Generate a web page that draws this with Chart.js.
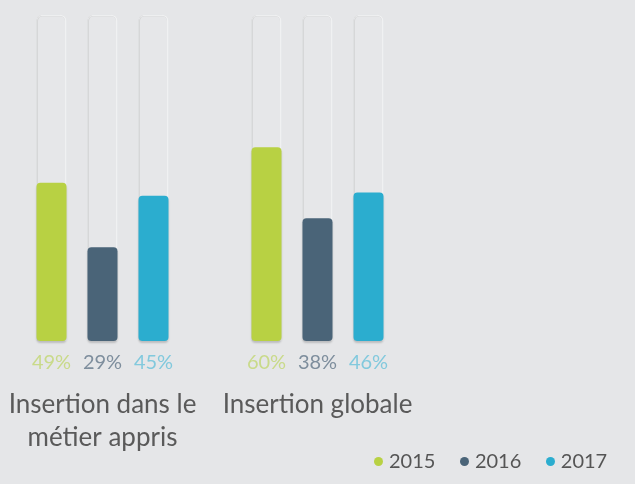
<!DOCTYPE html>
<html>
<head>
<meta charset="utf-8">
<script src="https://cdn.jsdelivr.net/npm/chart.js@4/dist/chart.umd.min.js"></script>
<style>
  html, body { margin:0; padding:0; background:#e5e6e8; }
  #wrap { position:relative; width:635px; height:484px; overflow:hidden; background:#e5e6e8; }
  #c { position:absolute; left:0; top:0; }
  #legend { position:absolute; top:448px; left:374px; font-family:Lato, sans-serif; font-size:20px; color:#555; white-space:nowrap; }
  #legend span.item { display:inline-block; margin-right:24.5px; }
  #legend span.dot { display:inline-block; width:9px; height:9px; border-radius:50%; margin-right:6px; vertical-align:2px; }
</style>
</head>
<body>
<div id="wrap">
  <canvas id="c" width="635" height="484"></canvas>
  <div id="legend"></div>
</div>
<script>
const categories = [['Insertion dans le', 'métier appris'], 'Insertion globale'];
const years = ['2015', '2016', '2017'];
const values2015 = [49, 60];
const values2016 = [29, 38];
const values2017 = [45, 46];
const trackMax = 101;

const barColors = ['#b8d143', '#4a6478', '#2badcf'];
const labelColors = ['#c9da8a', '#7e8e9d', '#82c9dd'];
const seriesValues = [values2015, values2016, values2017];

const valueSets = years.map((y, i) => ({
  label: y,
  data: seriesValues[i],
  backgroundColor: barColors[i],
  borderRadius: 4,
  borderSkipped: false,
  stack: 's' + i,
  clip: false,
  isValue: true
}));
const trackSets = years.map((y, i) => ({
  label: 'track' + y,
  data: categories.map(() => trackMax),
  backgroundColor: '#e6e7e9',
  borderColor: '#f0f1f2',
  borderWidth: 1.5,
  borderRadius: {topLeft: 6, topRight: 6, bottomLeft: 0, bottomRight: 0},
  borderSkipped: 'bottom',
  stack: 's' + i,
  clip: false,
  isValue: false
}));

const valueLabels = {
  id: 'valueLabels',
  beforeDatasetDraw(chart, args) {
    const ds = chart.data.datasets[args.index];
    const ctx = chart.ctx;
    ctx.save();
    if (ds.isValue) {
      ctx.shadowColor = 'rgba(0,0,0,0.18)';
      ctx.shadowOffsetY = 2;
      ctx.shadowBlur = 2;
    } else {
      ctx.shadowColor = 'rgba(0,0,0,0.12)';
      ctx.shadowOffsetX = -1;
      ctx.shadowBlur = 1;
    }
  },
  afterDatasetDraw(chart) { chart.ctx.restore(); },
  afterDatasetsDraw(chart) {
    const ctx = chart.ctx;
    ctx.save();
    ctx.font = '20px Lato';
    ctx.textAlign = 'center';
    ctx.textBaseline = 'middle';
    chart.data.datasets.forEach((ds, di) => {
      if (!ds.isValue) return;
      const meta = chart.getDatasetMeta(di);
      meta.data.forEach((bar, i) => {
        ctx.fillStyle = labelColors[di];
        ctx.fillText(ds.data[i] + '%', bar.x, chart.chartArea.bottom + 22);
      });
    });
    ctx.restore();
  }
};

new Chart(document.getElementById('c'), {
  type: 'bar',
  data: { labels: categories, datasets: [...valueSets, ...trackSets] },
  options: {
    responsive: false,
    animation: false,
    devicePixelRatio: 1,
    categoryPercentage: 153 / 215,
    barPercentage: 30 / 51,
    layout: { padding: { left: 102.5, right: 317.5, top: 18, bottom: 32 } },
    plugins: { legend: { display: false }, tooltip: { enabled: false } },
    scales: {
      x: {
        type: 'category',
        offset: false,
        grid: { display: false },
        border: { display: false },
        afterFit(scale) {
          scale.height = 111;
          scale.paddingLeft = 0;
          scale.paddingRight = 0;
        },
        ticks: {
          autoSkip: false, maxRotation: 0, minRotation: 0,
          padding: 39,
          color: '#5a5a5a',
          font: { family: 'Lato', size: 26, lineHeight: 1.27 }
        }
      },
      y: { display: false, min: 0, max: 100, stacked: false }
    }
  },
  plugins: [valueLabels]
});

const legend = document.getElementById('legend');
years.forEach((y, i) => {
  const item = document.createElement('span');
  item.className = 'item';
  const dot = document.createElement('span');
  dot.className = 'dot';
  dot.style.background = barColors[i];
  item.appendChild(dot);
  item.appendChild(document.createTextNode(y));
  legend.appendChild(item);
});
</script>
</body>
</html>
